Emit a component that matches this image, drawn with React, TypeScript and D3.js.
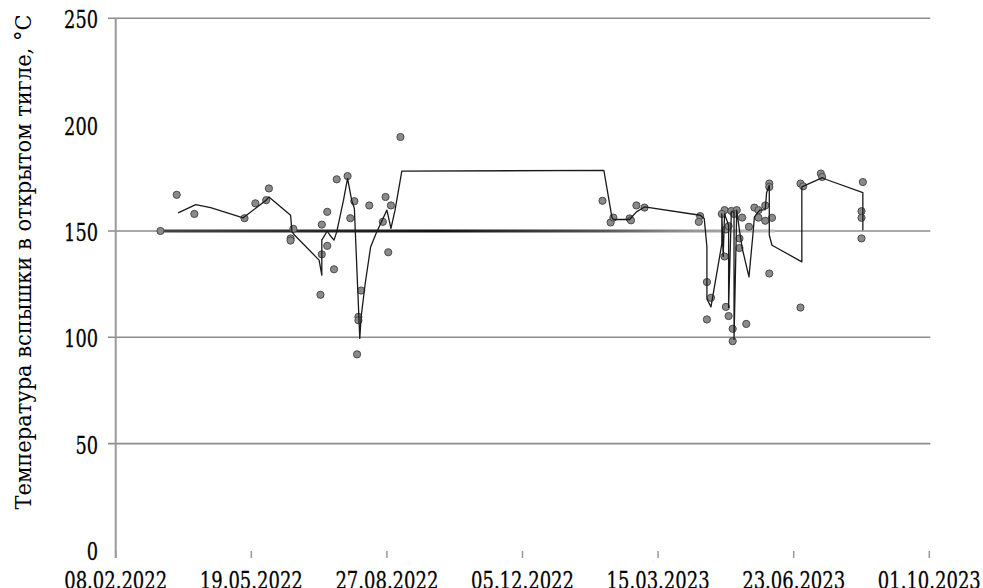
import React from "react";
import * as d3 from "d3";

const xTickDates = ["2022-02-08", "2022-05-19", "2022-08-27", "2022-12-05", "2023-03-15", "2023-06-23", "2023-10-01"];
const xTickLabels = ["08.02.2022", "19.05.2022", "27.08.2022", "05.12.2022", "15.03.2023", "23.06.2023", "01.10.2023"];
const yTickValues = [0, 50, 100, 150, 200, 250];
const yGridValues = [50, 100, 150, 250];

const scatterDates = [
  "2022-03-13", "2022-03-25", "2022-04-07", "2022-05-14", "2022-05-22", "2022-05-30", "2022-06-01",
  "2022-06-19", "2022-06-17", "2022-06-17", "2022-07-10", "2022-07-14", "2022-07-14", "2022-07-10",
  "2022-07-19", "2022-07-09", "2022-07-21", "2022-07-29", "2022-08-03", "2022-07-31", "2022-08-08",
  "2022-08-06", "2022-08-06", "2022-08-05", "2022-08-14", "2022-08-26", "2022-08-30", "2022-08-24",
  "2022-08-28", "2022-09-06",
  "2023-02-02", "2023-02-08", "2023-02-10", "2023-02-22", "2023-02-23", "2023-02-27", "2023-03-05",
  "2023-04-15", "2023-04-14", "2023-04-20", "2023-04-23", "2023-04-20", "2023-05-03", "2023-05-01",
  "2023-05-04", "2023-05-06", "2023-05-03", "2023-05-04", "2023-05-06", "2023-05-08", "2023-05-12",
  "2023-05-10", "2023-05-14", "2023-05-14", "2023-05-16", "2023-05-09", "2023-05-09", "2023-05-19",
  "2023-05-21", "2023-05-25", "2023-05-28", "2023-05-28", "2023-06-02", "2023-06-02", "2023-06-05",
  "2023-06-05", "2023-06-07", "2023-06-05", "2023-06-28", "2023-06-30", "2023-06-28", "2023-07-13",
  "2023-07-14", "2023-08-13", "2023-08-12", "2023-08-12", "2023-08-12",
];
const scatterValues = [
  150, 167, 158, 156, 163, 164.5, 170,
  151, 146.5, 145.5, 153, 159, 143, 139,
  132, 120, 174.3, 175.8, 164, 156, 122,
  109.6, 108, 92, 162, 166, 162, 154.3,
  140, 194.2,
  164.2, 154, 156.3, 155.9, 155, 162, 161,
  157, 154.3, 126, 118.6, 108.4, 159.8, 158,
  150.7, 152.3, 138, 114.3, 110, 159.4, 159.8,
  158, 146.5, 142, 156.3, 104, 98.2, 106.3,
  152, 161, 159.8, 156.3, 162, 154.8, 172.3,
  170.7, 156.2, 130, 172.3, 171, 114, 177,
  175.4, 173, 159.3, 156.2, 146.5,
];

const trendDates = [
  "2022-03-26", "2022-04-08", "2022-04-19", "2022-05-13", "2022-05-30", "2022-06-01", "2022-06-17",
  "2022-06-18", "2022-06-20", "2022-07-08", "2022-07-10", "2022-07-10", "2022-07-14", "2022-07-16",
  "2022-07-19", "2022-07-21", "2022-07-26", "2022-07-29", "2022-08-01", "2022-08-03", "2022-08-07",
  "2022-08-08", "2022-08-11", "2022-08-15", "2022-08-19", "2022-08-23", "2022-08-27", "2022-08-30",
  "2022-09-02", "2022-09-07", "2023-02-03", "2023-02-09", "2023-02-10", "2023-02-22", "2023-02-27",
  "2023-03-05", "2023-04-15", "2023-04-18", "2023-04-20", "2023-04-20", "2023-04-23", "2023-05-01",
  "2023-05-01", "2023-05-02", "2023-05-03", "2023-05-06", "2023-05-06", "2023-05-08", "2023-05-10",
  "2023-05-10", "2023-05-12", "2023-05-14", "2023-05-16", "2023-05-21", "2023-05-24", "2023-05-25",
  "2023-05-29", "2023-06-02", "2023-06-03", "2023-06-05", "2023-06-05", "2023-06-07", "2023-06-29",
  "2023-06-29", "2023-07-13", "2023-07-14", "2023-07-17", "2023-08-13", "2023-08-13",
];
const trendValues = [
  158.5, 162.4, 161, 156.2, 164.5, 166, 157.4,
  149.6, 148, 136.3, 129.2, 145.7, 150, 148,
  145.7, 149.6, 164.5, 174.7, 164.5, 160.6, 99.5,
  109.6, 125.3, 142.5, 148.8, 154.3, 159.8, 151.2,
  159.8, 178.1, 178.5, 156.3, 155.4, 155.4, 159,
  161.3, 157.4, 155.9, 142.5, 118, 114.3, 144,
  158, 138, 158, 152.7, 114, 159, 159,
  99, 159.8, 150.4, 142, 128.4, 148.8, 156.6,
  159.8, 160, 168, 171.5, 148, 143.3, 135.5,
  170.7, 174.7, 175.1, 174.2, 168, 150.4,
];

const normDates = ["2022-03-13", "2023-06-09"];
const normValues = [150, 150];

const yTitle = "Температура вспышки в открытом тигле, °С";

const parse = (s: string) => new Date(s + "T00:00:00Z");

export default function App() {
  const W = 983, H = 588;
  const left = 115.7, right = 929.3, top = 18.3, bottom = 550;
  const x = d3.scaleUtc().domain([parse("2022-02-08"), parse("2023-10-01")]).range([left, right]);
  const y = d3.scaleLinear().domain([0, 250]).range([bottom, top]);

  const trend = trendDates.map((d, i) => ({ d: parse(d), v: trendValues[i] }));
  const line = d3.line<{ d: Date; v: number }>().x(p => x(p.d)).y(p => y(p.v));
  const norm = normDates.map((d, i) => ({ d: parse(d), v: normValues[i] }));
  const nx0 = x(norm[0].d), nx1 = x(norm[1].d);

  const font = "DejaVu Serif";

  return (
    <svg width={W} height={H} style={{ position: "absolute", left: 0, top: 0, background: "#fff" }}>
      <defs>
        <linearGradient id="normGrad" gradientUnits="userSpaceOnUse" x1={nx0} x2={nx1} y1={0} y2={0}>
          <stop offset="0" stopColor="#444" />
          <stop offset="0.15" stopColor="#333" />
          <stop offset="0.45" stopColor="#111" />
          <stop offset="0.72" stopColor="#555" />
          <stop offset="0.83" stopColor="#888" />
          <stop offset="1" stopColor="#c0c0c0" />
        </linearGradient>
      </defs>
      {yGridValues.map(v => (
        <line key={v} x1={108} x2={right + 1} y1={y(v)} y2={y(v)} stroke="#8c8c8c" strokeWidth={1.6} />
      ))}
      <line x1={left} x2={left} y1={top} y2={bottom + 8} stroke="#999" strokeWidth={2} />
      {xTickDates.map(d => (
        <line key={d} x1={x(parse(d))} x2={x(parse(d))} y1={bottom + 1} y2={bottom + 8} stroke="#999" strokeWidth={1.5} />
      ))}
      <path d={line(norm) || ""} fill="none" stroke="url(#normGrad)" strokeWidth={3} />
      {scatterDates.map((d, i) => (
        <circle key={i} cx={x(parse(d))} cy={y(scatterValues[i])} r={3.6} fill="#8a8a8a" stroke="#4a4a4a" strokeWidth={1} />
      ))}
      <path d={line(trend) || ""} fill="none" stroke="#1a1a1a" strokeWidth={1.3} strokeLinejoin="round" />
      {yTickValues.map(v => (
        <g key={v} transform={`translate(98,${y(v) + 1.5}) scale(0.74,1)`}>
          <text textAnchor="end" dy="0.36em" style={{ fontFamily: font }} fontSize={24} fill="#000" stroke="#000" strokeWidth={0.3}>{v}</text>
        </g>
      ))}
      {xTickDates.map((d, i) => (
        <g key={d} transform={`translate(${x(parse(d))},589) scale(0.75,1)`}>
          <text textAnchor="middle" style={{ fontFamily: font }} fontSize={24} fill="#000" stroke="#000" strokeWidth={0.3}>{xTickLabels[i]}</text>
        </g>
      ))}
      <g transform="translate(31,262) rotate(-90) scale(0.955,1)">
        <text textAnchor="middle" style={{ fontFamily: font }} fontSize={22} fill="#000">{yTitle}</text>
      </g>
    </svg>
  );
}
